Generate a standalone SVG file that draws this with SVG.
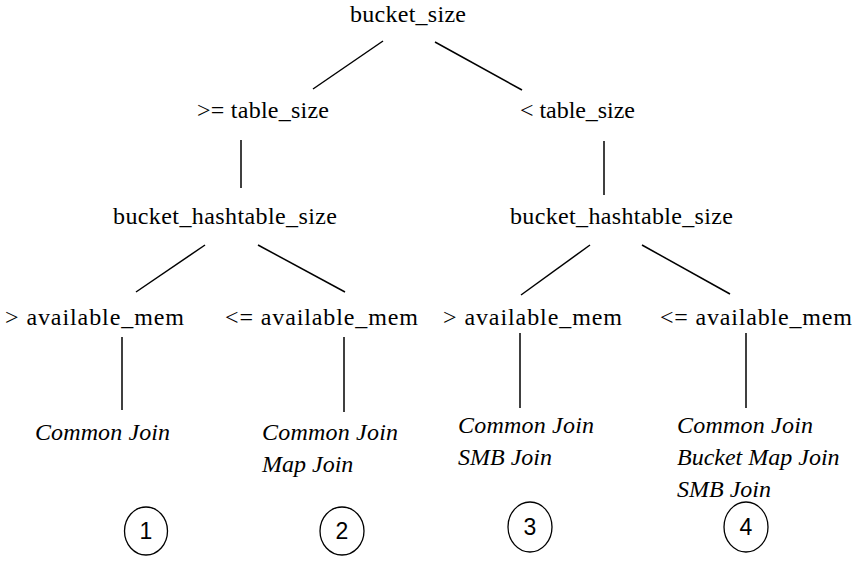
<svg xmlns="http://www.w3.org/2000/svg" width="858" height="561" viewBox="0 0 858 561">
<style>
.c{fill:none;stroke:#000;stroke-width:1.3}
#connectors line{stroke:#000;stroke-width:1.5}
</style>
<rect width="858" height="561" fill="#fff"/>
<g id="connectors">
<line x1="383" y1="41" x2="313" y2="89"/>
<line x1="435" y1="42" x2="522" y2="90"/>
<line x1="241" y1="140" x2="241" y2="188"/>
<line x1="604" y1="141" x2="604" y2="195"/>
<line x1="205" y1="245" x2="136" y2="292"/>
<line x1="258" y1="245" x2="345" y2="292"/>
<line x1="590" y1="245" x2="521" y2="295"/>
<line x1="642" y1="245" x2="730" y2="294"/>
<line x1="122" y1="337" x2="122" y2="410"/>
<line x1="344" y1="337" x2="344" y2="412"/>
<line x1="520" y1="333" x2="520" y2="408"/>
<line x1="746" y1="333" x2="746" y2="408"/>
</g>
<g font-family="Liberation Serif, DejaVu Serif, serif" font-size="24" fill="#000">
<g id="root"><text x="350" y="22" textLength="116">bucket_size</text></g>
<g id="ge_table"><text x="197" y="118" textLength="132">&gt;= table_size</text></g>
<g id="lt_table"><text x="520" y="118" textLength="115">&lt; table_size</text></g>
<g id="bht_left"><text x="113" y="224" textLength="224">bucket_hashtable_size</text></g>
<g id="bht_right"><text x="510" y="224" textLength="223">bucket_hashtable_size</text></g>
<g id="gt_mem_1"><text x="5" y="325" textLength="179">&gt;  available_mem</text></g>
<g id="le_mem_2"><text x="225" y="325" textLength="193">&lt;=  available_mem</text></g>
<g id="gt_mem_3"><text x="443" y="325" textLength="179">&gt;  available_mem</text></g>
<g id="le_mem_4"><text x="660" y="325" textLength="192">&lt;=  available_mem</text></g>
<g font-style="italic">
<g id="result_1"><text x="35" y="440" textLength="135">Common Join</text></g>
<g id="result_2"><text x="262" y="440" textLength="136">Common Join</text><text x="262" y="472">Map Join</text></g>
<g id="result_3"><text x="458" y="433" textLength="136">Common Join</text><text x="458" y="465">SMB Join</text></g>
<g id="result_4"><text x="677" y="433" textLength="136">Common Join</text><text x="677" y="465">Bucket Map Join</text><text x="677" y="497">SMB Join</text></g>
</g>
</g>
<g font-family="Liberation Sans, Arial, sans-serif" font-size="23" text-anchor="middle" fill="#000">
<g id="case_1"><ellipse class="c" cx="146" cy="531" rx="21.5" ry="24"/><text x="146" y="539">1</text></g>
<g id="case_2"><ellipse class="c" cx="342" cy="531" rx="22" ry="24"/><text x="342" y="539">2</text></g>
<g id="case_3"><ellipse class="c" cx="530" cy="527" rx="22" ry="25"/><text x="530" y="535">3</text></g>
<g id="case_4"><ellipse class="c" cx="746" cy="527" rx="22" ry="25"/><text x="746" y="535">4</text></g>
</g>
</svg>
